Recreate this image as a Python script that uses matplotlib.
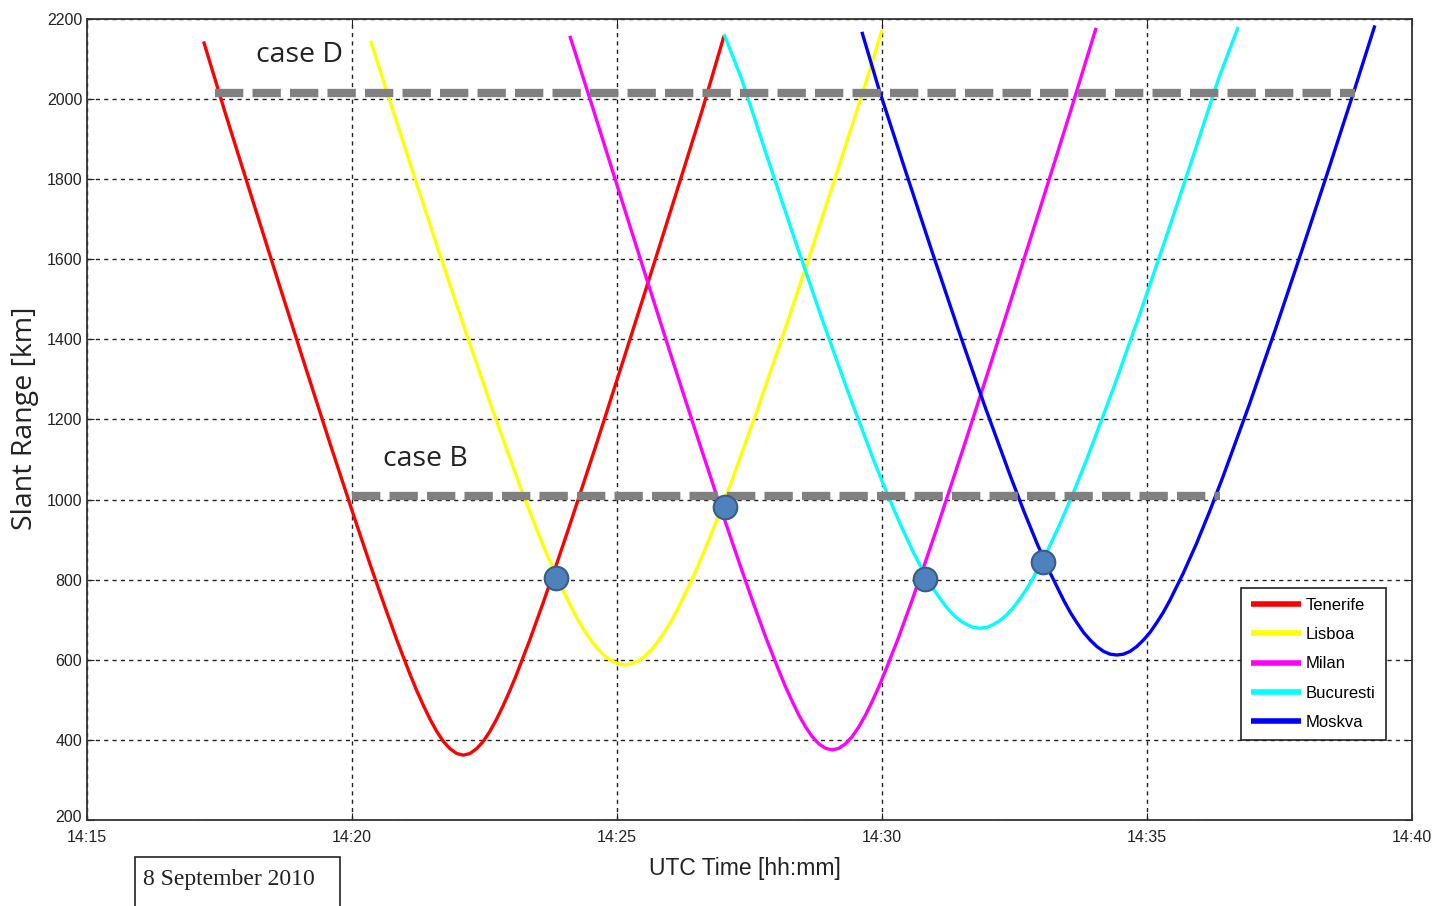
import matplotlib
matplotlib.use("Agg")
import matplotlib.pyplot as plt
import matplotlib.transforms as mtransforms
from matplotlib.patches import Rectangle

# ---------------- data (minutes after 14:15 UTC, slant range in km) ----------------
tenerife_t = [2.2, 2.6, 3.1, 3.6, 4.1, 4.6, 5.1, 5.35, 5.6, 5.85, 6.1, 6.225, 6.35, 6.475, 6.6, 6.725,
              6.85, 6.975, 7.1, 7.225, 7.35, 7.475, 7.6, 7.725, 7.85, 7.975, 8.1, 8.35, 8.6, 8.85,
              9.1, 9.6, 10.1, 10.6, 11.1, 11.6, 12.02]
tenerife_r = [2144, 1969, 1758, 1548, 1340, 1134, 933, 835, 740, 648, 562, 522, 485, 451, 421, 396,
              378, 366, 362, 366, 378, 396, 421, 451, 485, 522, 562, 648, 740, 835,
              933, 1134, 1340, 1548, 1758, 1969, 2158]

lisboa_t = [5.35, 5.65, 6.15, 6.65, 7.15, 7.65, 8.15, 8.4, 8.65, 8.9, 9.15, 9.275, 9.4, 9.525, 9.65, 9.775,
            9.9, 10.025, 10.15, 10.275, 10.4, 10.525, 10.65, 10.775, 10.9, 11.025, 11.15, 11.4, 11.65, 11.9,
            12.15, 12.65, 13.15, 13.65, 14.15, 14.65, 15.0]
lisboa_r = [2146, 2022, 1817, 1615, 1417, 1225, 1041, 954, 872, 796, 728, 697, 670, 646, 625, 609,
            597, 590, 587, 590, 597, 609, 625, 646, 670, 697, 728, 796, 872, 954,
            1041, 1225, 1417, 1615, 1817, 2022, 2172]

milan_t = [9.11, 9.56, 10.06, 10.56, 11.06, 11.56, 12.06, 12.31, 12.56, 12.81, 13.06, 13.185, 13.31, 13.435,
           13.56, 13.685, 13.81, 13.935, 14.06, 14.185, 14.31, 14.435, 14.56, 14.685, 14.81, 14.935, 15.06,
           15.31, 15.56, 15.81, 16.06, 16.56, 17.06, 17.56, 18.06, 18.56, 19.04]
milan_r = [2158, 1971, 1760, 1551, 1343, 1139, 938, 841, 746, 655, 571, 531, 495, 461,
           432, 408, 390, 379, 375, 379, 390, 408, 432, 461, 495, 531, 571,
           655, 746, 841, 938, 1139, 1343, 1551, 1760, 1971, 2178]

bucuresti_t = [12.02, 12.35, 12.85, 13.35, 13.85, 14.35, 14.85, 15.1, 15.35, 15.6, 15.85, 15.975, 16.1, 16.225,
               16.35, 16.475, 16.6, 16.725, 16.85, 16.975, 17.1, 17.225, 17.35, 17.475, 17.6, 17.725, 17.85,
               18.1, 18.35, 18.6, 18.85, 19.35, 19.85, 20.35, 20.85, 21.35, 21.72]
bucuresti_r = [2162, 2051, 1849, 1651, 1458, 1272, 1096, 1014, 937, 866, 804, 776, 752, 730,
               712, 698, 688, 681, 679, 681, 688, 698, 712, 730, 752, 776, 804,
               866, 937, 1014, 1096, 1272, 1458, 1651, 1849, 2051, 2180]

moskva_t = [14.62, 14.93, 15.43, 15.93, 16.43, 16.93, 17.43, 17.68, 17.93, 18.18, 18.43, 18.555, 18.68, 18.805,
            18.93, 19.055, 19.18, 19.305, 19.43, 19.555, 19.68, 19.805, 19.93, 20.055, 20.18, 20.305, 20.43,
            20.68, 20.93, 21.18, 21.43, 21.93, 22.43, 22.93, 23.43, 23.93, 24.30]
moskva_r = [2168, 2030, 1826, 1625, 1428, 1237, 1056, 970, 889, 815, 748, 718, 692, 668,
            649, 633, 621, 614, 612, 614, 621, 633, 649, 668, 692, 718, 748,
            815, 889, 970, 1056, 1237, 1428, 1625, 1826, 2030, 2184]

station_names = ["Tenerife", "Lisboa", "Milan", "Bucuresti", "Moskva"]
station_colors = ["#FF0000", "#FFFF00", "#FF00FF", "#00FFFF", "#0000FF"]

# intersection markers
marker_t = [8.85, 12.04, 15.81, 18.04]
marker_r = [804, 982, 802, 844]

# case threshold lines
caseD_t = [2.42, 23.92]
caseD_r = [2015, 2015]
caseB_t = [5.0, 21.38]
caseB_r = [1009, 1009]

x_ticks = [0, 5, 10, 15, 20, 25]
x_ticklabels = ["14:15", "14:20", "14:25", "14:30", "14:35", "14:40"]
y_ticks = [200, 400, 600, 800, 1000, 1200, 1400, 1600, 1800, 2000, 2200]

# ---------------- figure ----------------
fig = plt.figure(figsize=(14.34, 9.06), dpi=100)
ax = fig.add_axes([87 / 1434, 1 - 820 / 906, (1412 - 87) / 1434, (820 - 19) / 906])

series = [(tenerife_t, tenerife_r), (lisboa_t, lisboa_r), (milan_t, milan_r),
          (bucuresti_t, bucuresti_r), (moskva_t, moskva_r)]
handles = []
for (t, r), name, col in zip(series, station_names, station_colors):
    h, = ax.plot(t, r, color=col, lw=2.4, label=name, zorder=3, solid_capstyle="butt",
                 solid_joinstyle="round")
    handles.append(h)

for tt, rr in [(caseD_t, caseD_r), (caseB_t, caseB_r)]:
    ln, = ax.plot(tt, rr, color="#808080", lw=6, zorder=4, solid_capstyle="butt",
                  dash_capstyle="butt")
    ln.set_dashes((3.4, 1.1))

ax.plot(marker_t, marker_r, "o", ms=17, mfc="#4F81BD", mec="#385D8A", mew=1.5, zorder=5)

ax.set_xlim(0, 25)
ax.set_ylim(200, 2200)
ax.set_xticks(x_ticks)
ax.set_xticklabels(x_ticklabels)
ax.set_yticks(y_ticks)
ax.grid(True, color="#222222", linestyle=(0, (3, 3)), linewidth=1.0, zorder=1)
ax.set_axisbelow(True)
ax.tick_params(direction="in", length=5, top=True, right=True, labelsize=11.5,
               colors="#222222", labelcolor="#222222")
ax.tick_params(axis="x", pad=7)
for lab in ax.get_xticklabels() + ax.get_yticklabels():
    lab.set_family("Liberation Sans")
for s in ax.spines.values():
    s.set_linewidth(1.3)
    s.set_color("#333333")

# lift the lowest y tick label a little, as in the original
first = ax.get_yticklabels()[0]
first.set_transform(first.get_transform() +
                    mtransforms.ScaledTranslation(0, 3 / 72, fig.dpi_scale_trans))

ax.text(4.0, 2110, "case D", fontsize=20.5, family="Open Sans", ha="center", va="center",
        color="#222222", zorder=6)
ax.text(6.38, 1101, "case B", fontsize=20.5, family="Open Sans", ha="center", va="center",
        color="#222222", zorder=6)

leg = ax.legend(handles=handles, loc="upper left", bbox_to_anchor=(0.871, 0.2896),
                prop={"family": "Liberation Sans", "size": 12},
                handlelength=3.0, handletextpad=0.3, labelspacing=0.85, borderpad=0.6,
                fancybox=False, framealpha=1, edgecolor="#222222", borderaxespad=0)
for lh in leg.get_lines():
    lh.set_linewidth(4)
leg.get_frame().set_linewidth(1.2)
leg.set_zorder(7)

fig.text(745 / 1434, 1 - 868 / 906, "UTC Time [hh:mm]", fontsize=16.5, family="Liberation Sans",
         ha="center", va="center", color="#222222")
fig.text(25 / 1434, 1 - 418 / 906, "Slant Range [km]", fontsize=20.5, family="Open Sans",
         rotation=90, ha="center", va="center", color="#222222")

fig.patches.append(Rectangle((135 / 1434, -0.01), 205 / 1434, (906 - 857) / 906 + 0.01,
                             transform=fig.transFigure, fill=False, edgecolor="#222222",
                             linewidth=1.2))
fig.text(143 / 1434, 1 - 880 / 906, "8 September 2010", fontsize=17, family="Liberation Serif",
         ha="left", va="center", color="#222222")

fig.savefig("out.png", dpi=100)
